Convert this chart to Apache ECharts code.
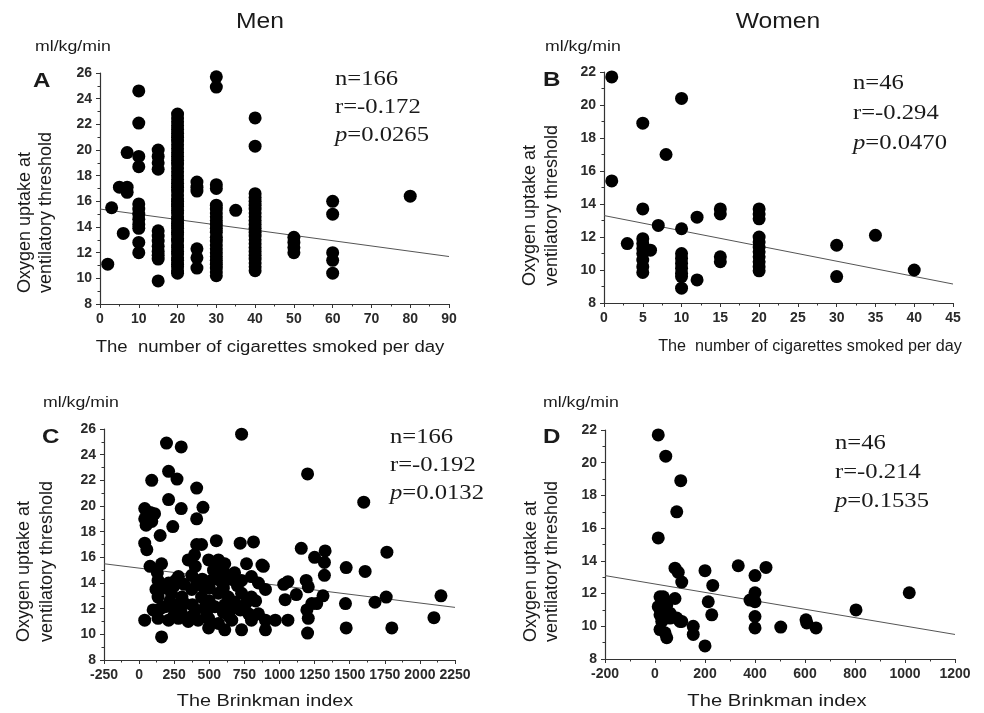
<!DOCTYPE html>
<html>
<head>
<meta charset="utf-8">
<script src="https://cdn.jsdelivr.net/npm/echarts@6/dist/echarts.min.js"></script>
<style>html,body{margin:0;padding:0;background:#fff;}#c{width:984px;height:713px;}</style>
</head>
<body>
<div id="c"></div>
<script>
// ---------- DATA ----------
// Panel A: Men, cigarettes per day vs VO2 at VT
const menCig = [
  [2,11.1],[3,15.5],[5,17.1],[6,13.5],[7,17.1],[7,16.7],[7,19.8],
  [10,24.6],[10,22.1],[10,19.5],[10,18.7],[10,15.8],[10,15.4],[10,15.0],[10,14.6],[10,14.2],[10,13.9],[10,12.8],[10,12.0],
  [15,20.0],[15,19.5],[15,19.0],[15,18.5],[15,13.7],[15,13.3],[15,12.9],[15,12.5],[15,12.1],[15,11.8],[15,11.5],[15,9.8],
  [20,22.8],[20,22.5],[20,22.2],[20,21.9],[20,21.6],[20,21.3],[20,21.0],[20,20.7],[20,20.4],[20,20.1],[20,19.8],[20,19.5],
  [20,19.2],[20,18.9],[20,18.6],[20,18.3],[20,18.0],[20,17.7],[20,17.4],[20,17.1],[20,16.8],[20,16.5],[20,16.2],[20,16.0],
  [20,15.8],[20,15.6],[20,15.3],[20,15.1],[20,14.8],[20,14.6],[20,14.3],[20,14.1],[20,13.9],[20,13.6],[20,13.4],[20,13.1],
  [20,12.9],[20,12.6],[20,12.4],[20,12.1],[20,11.9],[20,11.6],[20,11.4],[20,11.1],[20,10.9],[20,10.6],[20,10.4],
  [25,17.5],[25,17.1],[25,16.8],[25,12.3],[25,11.6],[25,10.8],
  [30,25.7],[30,24.9],[30,17.3],[30,17.0],[30,15.7],[30,15.4],[30,15.1],[30,14.8],[30,14.5],[30,14.2],[30,13.9],[30,13.6],
  [30,13.2],[30,12.9],[30,12.6],[30,12.3],[30,12.0],[30,11.7],[30,11.4],[30,11.1],[30,10.8],[30,10.5],[30,10.2],
  [35,15.3],
  [40,22.5],[40,20.3],[40,16.6],[40,16.3],[40,16.0],[40,15.7],[40,15.4],[40,15.1],[40,14.8],[40,14.5],[40,14.2],[40,13.9],
  [40,13.6],[40,13.3],[40,13.0],[40,12.7],[40,12.4],[40,12.1],[40,11.8],[40,11.5],[40,11.2],[40,10.9],[40,10.6],
  [50,13.2],[50,12.8],[50,12.4],[50,12.0],
  [60,16.0],[60,15.0],[60,12.0],[60,11.4],[60,10.4],
  [80,16.4]
];
const menCigFit = [[0,15.4],[90,11.7]];

// Panel B: Women, cigarettes per day
const womenCig = [
  [1,21.7],[1,15.4],[3,11.6],[5,18.9],[5,13.7],[5,11.9],[5,11.6],[5,11.3],[5,11.0],[5,10.6],[5,10.2],[5,9.85],
  [6,11.2],[7,12.7],[8,17.0],
  [10,20.4],[10,12.5],[10,11.0],[10,10.7],[10,10.4],[10,10.1],[10,9.8],[10,9.6],[10,8.9],
  [12,13.2],[12,9.4],[15,13.7],[15,13.4],[15,10.8],[15,10.5],
  [20,13.7],[20,13.4],[20,13.1],[20,12.0],[20,11.7],[20,11.4],[20,11.1],[20,10.8],[20,10.5],[20,10.2],[20,9.95],
  [30,11.5],[30,9.6],[35,12.1],[40,10.0]
];
const womenCigFit = [[0,13.3],[45,9.15]];

// Panel C: Men, Brinkman index
const menBrink = [
  [730,25.6],[195,24.9],[300,24.6],[210,22.7],[90,22.0],[270,22.1],[410,21.4],[1200,22.5],[1600,20.3],
  [210,20.5],[300,19.8],[455,19.9],[410,19.0],[40,19.8],[80,19.5],[110,19.4],[40,19.0],[90,18.8],[240,18.4],[50,18.5],
  [150,17.7],[40,17.1],[55,16.6],[410,17.0],[445,17.0],[550,17.3],[720,17.1],[815,17.2],[1155,16.7],[1325,16.5],
  [1765,16.4],[1250,16.0],[1320,15.6],[1475,15.2],[1610,14.9],[1320,14.6],[885,15.3],
  [78,15.3],[160,15.5],[350,15.8],[395,16.2],[495,15.8],[565,15.8],[610,15.5],[530,15.0],[610,14.75],[765,15.5],[875,15.4],
  [135,14.2],[210,14.0],[280,14.5],[375,14.6],[410,14.1],[515,14.2],[590,14.0],[730,14.2],[800,14.5],[850,14.0],
  [900,13.5],[1060,14.1],[1030,13.9],[1190,14.2],[1205,13.7],
  [135,12.9],[230,13.2],[305,12.9],[375,13.5],[445,12.9],[565,13.2],[635,12.9],[730,13.2],[800,12.9],[1040,12.7],
  [1120,13.1],[1310,13.0],[1230,12.4],
  [100,11.9],[185,12.15],[255,11.9],[325,12.4],[400,11.9],[470,12.15],[540,12.15],[610,12.3],[720,11.9],[780,11.6],
  [850,11.6],[1195,11.9],[1265,12.4],
  [40,11.1],[135,11.25],[210,11.1],[280,11.25],[375,11.4],[420,11.1],[495,11.25],[565,10.85],[660,11.1],[800,11.1],
  [900,11.1],[970,11.1],[1060,11.1],[1205,11.25],
  [495,10.5],[610,10.35],[730,10.35],[900,10.35],[160,9.8],[1200,10.1],
  [1470,12.4],[1475,10.5],[1680,12.5],[1760,12.9],[1800,10.5],[2100,11.3],[2150,13.0],
  [170,13.6],[250,13.8],[320,13.9],[450,14.3],[500,13.6],[560,14.5],[600,13.6],[650,14.3],[680,12.5],[700,13.8],
  [450,13.8],[300,12.5],[220,12.6],[150,12.0],[380,12.3],[500,12.6],[600,11.7],[660,12.0],[760,12.4],[830,12.6],
  [480,11.7],[350,11.0],[250,11.5],[120,13.5],[130,14.8],[560,15.2],[590,15.5],[260,14.2],[400,15.3],[680,14.8],
  [640,11.4],[300,11.7]
];
const menBrinkFit = [[-250,15.5],[2250,12.1]];

// Panel D: Women, Brinkman index
const womenBrink = [
  [13,21.7],[43,20.4],[103,18.9],[87,17.0],[13,15.4],
  [80,13.55],[93,13.3],[107,12.7],[200,13.4],[231,12.5],[213,11.5],[227,10.7],[200,8.8],[153,10.0],[153,9.5],
  [333,13.7],[444,13.6],[400,13.1],[400,12.05],[380,11.6],[400,11.5],[400,10.6],[400,9.9],[503,9.95],[604,10.4],
  [607,10.2],[644,9.9],[804,11.0],[1017,12.05],
  [20,11.8],[27,11.5],[13,11.2],[33,11.0],[47,11.3],[60,10.8],[80,11.7],[87,10.5],[100,10.3],[20,10.7],[27,10.3],
  [20,9.8],[47,9.3],[33,11.8],[40,9.6],[60,10.5],[107,10.3]
];
const womenBrinkFit = [[-200,13.1],[1200,9.5]];

// Axis ranges and tick steps
const xRanges = [[0,90,10],[0,45,5],[-250,2250,250],[-200,1200,200]];
const yRanges = [[8,26,2],[8,22,2],[8,26,2],[8,22,2]];

// Texts
const columnTitles = ['Men','Women'];
const panelLetters = ['A','B','C','D'];
const unitLabel = 'ml/kg/min';
const yName = ['Oxygen uptake at','ventilatory threshold'];
const xNames = ['The  number of cigarettes smoked per day','The  number of cigarettes smoked per day','The Brinkman index','The Brinkman index'];
const statsN = ['n=166','n=46','n=166','n=46'];
const statsR = ['r=-0.172','r=-0.294','r=-0.192','r=-0.214'];
const statsP = ['0.0265','0.0470','0.0132','0.1535'];

// ---------- LAYOUT ----------
const grids = [
  {left:100, top:73, width:349, height:231},
  {left:604, top:72, width:349, height:231},
  {left:104, top:429, width:351, height:231},
  {left:605, top:430, width:350, height:229}
];

const SANS = "'Liberation Sans', Arial, sans-serif";
const SERIF = "'Liberation Serif', 'Times New Roman', serif";
const INK = '#1a1a1a';

function valueAxis(i, r) {
  return {
    type:'value', gridIndex:i, min:r[0], max:r[1], interval:r[2],
    axisLine:{show:true, onZero:false, lineStyle:{color:'#333', width:1.2}},
    axisTick:{show:true, length:4, lineStyle:{color:'#333', width:1}},
    minorTick:{show:true, splitNumber:2, length:2.5, lineStyle:{color:'#333', width:1}},
    splitLine:{show:false},
    axisLabel:{margin:8, color:'#2a2a2a', fontSize:14, fontWeight:'bold', fontFamily:SANS,
      hideOverlap:false, showMinLabel:true, showMaxLabel:true, formatter: v => String(v)}
  };
}

const datasets = [menCig, womenCig, menBrink, womenBrink];
const fits = [menCigFit, womenCigFit, menBrinkFit, womenBrinkFit];
const series = [];
datasets.forEach((d,i) => {
  series.push({type:'line', xAxisIndex:i, yAxisIndex:i, data:fits[i], showSymbol:false, silent:true,
    lineStyle:{color:'#555', width:1}, z:1});
  series.push({type:'scatter', xAxisIndex:i, yAxisIndex:i, data:d, symbol:'circle',
    symbolSize:13, itemStyle:{color:'#000', opacity:1}, z:2});
});

function txt(x, y, text, font, opt) {
  opt = opt || {};
  return {
    type:'text', x:x, y:y, rotation: opt.rotation || 0, scaleX: opt.scaleX || 1, silent:true,
    style:{text:text, font:font, fill:INK, align: opt.align || 'left', textAlign: opt.align || 'left',
      verticalAlign: opt.va || 'middle', textVerticalAlign: opt.va || 'middle', rich: opt.rich}
  };
}

const graphics = [];
// column titles
graphics.push(txt(260, 22, columnTitles[0], '22px ' + SANS, {align:'center', scaleX:1.12}));
graphics.push(txt(778, 22, columnTitles[1], '22px ' + SANS, {align:'center', scaleX:1.12}));
// unit labels
[[35,47],[545,47],[43,403],[543,403]].forEach(p => graphics.push(txt(p[0], p[1], unitLabel, '15px ' + SANS, {scaleX:1.18})));
// panel letters
[[33,81],[543,80],[42,437],[543,437]].forEach((p,i) => graphics.push(txt(p[0], p[1], panelLetters[i], 'bold 21px ' + SANS, {scaleX:1.15})));
// y-axis names (rotated, two lines, left aligned at bottom)
[[25,46,293],[530,552,286],[24,47,642],[531,552,642]].forEach(p => {
  graphics.push(txt(p[0], p[2], yName[0], '18px ' + SANS, {rotation:Math.PI/2, align:'left'}));
  graphics.push(txt(p[1], p[2], yName[1], '18px ' + SANS, {rotation:Math.PI/2, align:'left'}));
});
// x-axis names
const xNameScale = [1.16, 1.01, 1.24, 1.26];
[[270,348],[810,347],[265,702],[777,702]].forEach((p,i) => graphics.push(txt(p[0], p[1], xNames[i], '16px ' + SANS, {align:'center', scaleX: xNameScale[i]})));
// statistics
const statPos = [[335,79,28],[853,83,30],[390,437,28],[835,443,29]];
statPos.forEach((p,i) => {
  const f = '22px ' + SERIF;
  graphics.push(txt(p[0], p[1], statsN[i], f, {scaleX:1.12}));
  graphics.push(txt(p[0], p[1]+p[2], statsR[i], f, {scaleX:1.12}));
  graphics.push(txt(p[0], p[1]+2*p[2], '{i|p}{n|=' + statsP[i] + '}', f, {scaleX:1.12,
    rich:{i:{font:'italic 22px ' + SERIF, fill:INK}, n:{font:f, fill:INK}}}));
});

const chart = echarts.init(document.getElementById('c'), null, {renderer:'canvas'});
chart.setOption({
  backgroundColor:'#fff',
  animation:false,
  grid: grids.map(g => Object.assign({containLabel:false}, g)),
  xAxis: xRanges.map((r,i) => valueAxis(i, r)),
  yAxis: yRanges.map((r,i) => valueAxis(i, r)),
  series: series,
  graphic: {elements: graphics}
});
</script>
</body>
</html>
